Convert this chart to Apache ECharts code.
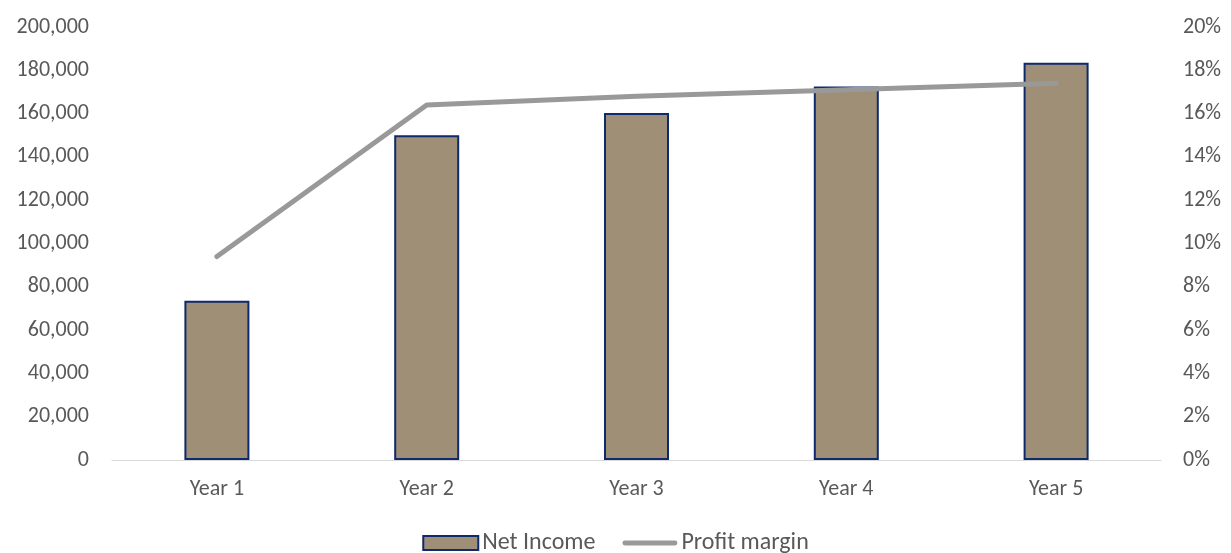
<!DOCTYPE html>
<html>
<head>
<meta charset="utf-8">
<script src="https://cdn.jsdelivr.net/npm/echarts@6/dist/echarts.min.js"></script>
<style>
  html, body { margin: 0; padding: 0; background: #fff; }
  #chart { width: 1231px; height: 553px; }
</style>
</head>
<body>
<div id="chart"></div>
<script>
// Five-year net income with profit margin on a secondary axis
const categories = ['Year 1', 'Year 2', 'Year 3', 'Year 4', 'Year 5'];
const netIncome = [73500, 150000, 160300, 172500, 183500];
const profitMargin = [0.094, 0.164, 0.168, 0.171, 0.174];

const textColor = '#595959';
const fontFamily = 'Carlito, Calibri, "Open Sans", "Liberation Sans", sans-serif';

const chart = echarts.init(document.getElementById('chart'));
chart.setOption({
  animation: false,
  textStyle: { fontFamily: fontFamily, color: textColor },
  grid: { left: 112, right: 70, top: 27, bottom: 93, containLabel: false },
  legend: {
    top: 526,
    left: 'center',
    itemGap: 27,
    itemWidth: 55,
    itemHeight: 14,
    textStyle: { fontSize: 24, color: textColor, fontFamily: fontFamily, padding: [0, 0, 0, -1] },
    data: [
      { name: 'Net Income', icon: 'rect' },
      {
        name: 'Profit margin',
        icon: 'path://M2.5,0 L53.5,0 A2.5,2.5 0 0 1 53.5,5 L2.5,5 A2.5,2.5 0 0 1 2.5,0 Z',
        itemStyle: { color: '#999999', borderWidth: 0 }
      }
    ]
  },
  xAxis: {
    type: 'category',
    data: categories,
    axisLine: { show: true, lineStyle: { color: '#D9D9D9', width: 1 } },
    axisTick: { show: false },
    axisLabel: { color: textColor, fontSize: 22, margin: 18 }
  },
  yAxis: [
    {
      type: 'value',
      min: 0,
      max: 200000,
      interval: 20000,
      splitLine: { show: false },
      axisLine: { show: false },
      axisTick: { show: false },
      axisLabel: {
        color: textColor,
        fontSize: 22,
        margin: 23,
        formatter: v => v.toLocaleString('en-US')
      }
    },
    {
      type: 'value',
      min: 0,
      max: 0.2,
      interval: 0.02,
      splitLine: { show: false },
      axisLine: { show: false },
      axisTick: { show: false },
      axisLabel: {
        color: textColor,
        fontSize: 22,
        margin: 22,
        formatter: v => Math.round(v * 100) + '%'
      }
    }
  ],
  series: [
    {
      name: 'Net Income',
      type: 'bar',
      data: netIncome,
      barWidth: 65,
      itemStyle: { color: '#A08F77', borderColor: '#0E2A6C', borderWidth: 2 }
    },
    {
      name: 'Profit margin',
      type: 'line',
      yAxisIndex: 1,
      data: profitMargin,
      symbol: 'none',
      lineStyle: { color: '#999999', width: 5, cap: 'round' },
      itemStyle: { color: '#999999' }
    }
  ]
});
</script>
</body>
</html>
